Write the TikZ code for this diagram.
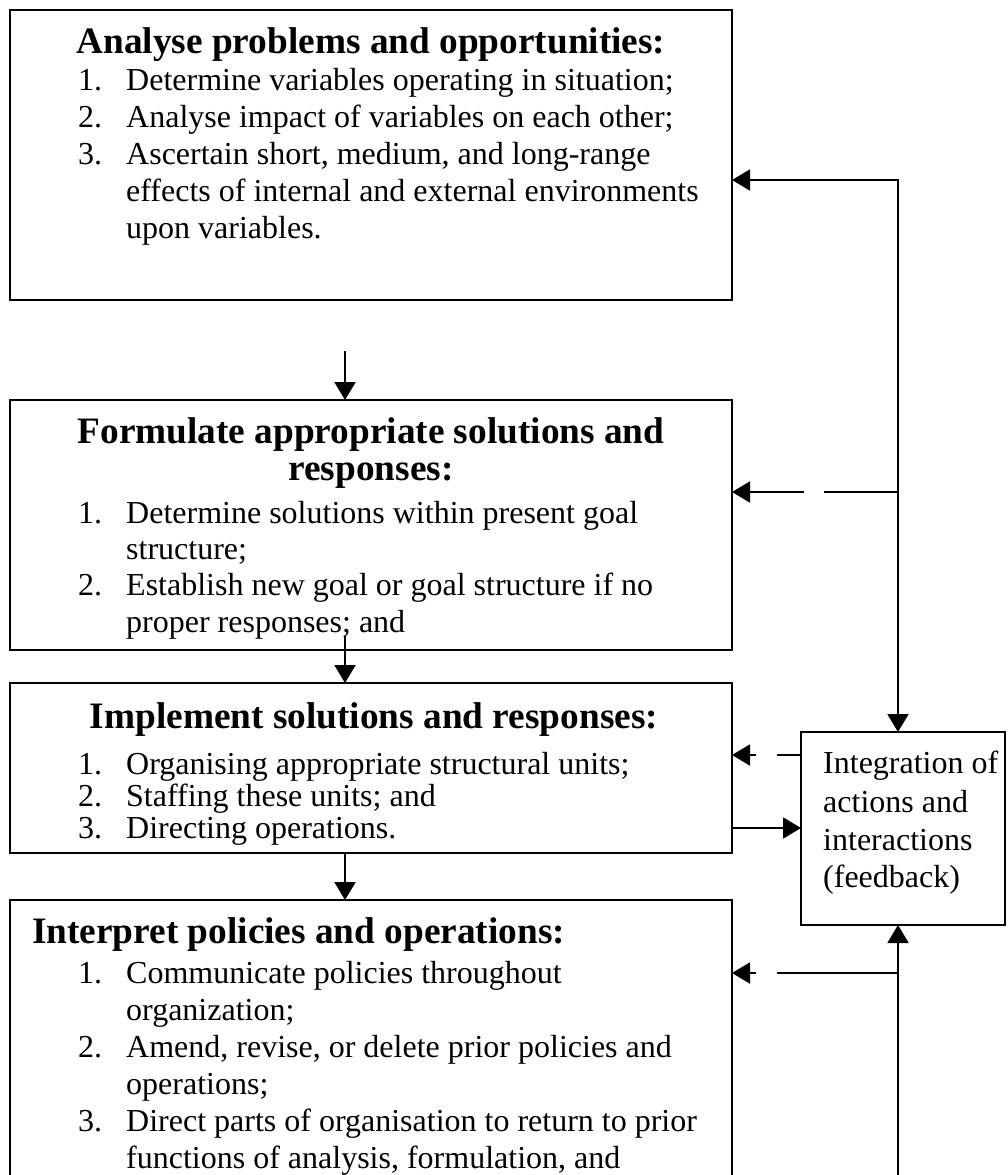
\documentclass[tikz,border=0pt]{standalone}
\usepackage{fontspec}
\setmainfont{Liberation Serif}
\usetikzlibrary{arrows.meta,calc}
\newcommand\bodyfont{\fontsize{32}{37}\selectfont}
\newcommand\headfont{\fontsize{37.3}{43}\selectfont\bfseries}
\newcommand\num[1]{\makebox[48pt][l]{#1}}
\begin{document}
\begin{tikzpicture}[x=1pt,y=-1pt,
  box/.style={draw, line width=2pt, inner sep=0pt, outer sep=0pt},
  head/.style={anchor=base, inner sep=0pt, font=\headfont},
  headl/.style={anchor=base west, inner sep=0pt, font=\headfont},
  txt/.style={anchor=base west, inner sep=0pt, font=\bodyfont},
  link/.style={line width=2pt, line cap=rect},
  arr/.style={line width=2pt, line cap=rect, -{Triangle[length=18pt,width=21pt]}},
]
\path[use as bounding box] (0,0) rectangle (1008,1175);
\clip (0,0) rectangle (1008,1175);
\fill[white] (0,0) rectangle (1008,1175);

% boxes
\node[box, minimum width=722pt, minimum height=290pt] (b1) at (371,155) {};
\node[box, minimum width=722pt, minimum height=250pt] (b2) at (371,525) {};
\node[box, minimum width=722pt, minimum height=170pt] (b3) at (371,768) {};
\node[box, minimum width=722pt, minimum height=320pt] (b4) at (371,1060) {};
\node[box, minimum width=204pt, minimum height=193pt] (ib) at (903,828.5) {};

% box 1
\node[head] (t1) at (371,53) {Analyse problems and opportunities:};
\node[txt] (t1a) at (78,90) {\num{1.}Determine variables operating in situation;};
\node[txt] (t1b) at (78,127) {\num{2.}Analyse impact of variables on each other;};
\node[txt] (t1c) at (78,164) {\num{3.}Ascertain short, medium, and long-range};
\node[txt] (t1d) at (126,201) {effects of internal and external environments};
\node[txt] (t1e) at (126,238) {upon variables.};

% box 2
\node[head] (t2) at (371,443) {Formulate appropriate solutions and};
\node[head] (t2b) at (371,480) {responses:};
\node[txt] (t2a) at (78,523) {\num{1.}Determine solutions within present goal};
\node[txt] (t2c) at (126,559) {structure;};
\node[txt] (t2d) at (78,595) {\num{2.}Establish new goal or goal structure if no};
\node[txt] (t2e) at (126,632) {proper responses; and};

% box 3
\node[head] (t3) at (374,728) {Implement solutions and responses:};
\node[txt] (t3a) at (78,774) {\num{1.}Organising appropriate structural units;};
\node[txt] (t3b) at (78,806) {\num{2.}Staffing these units; and};
\node[txt] (t3c) at (78,838) {\num{3.}Directing operations.};

% box 4
\node[headl] (t4) at (32,943) {Interpret policies and operations:};
\node[txt] (t4a) at (78,983) {\num{1.}Communicate policies throughout};
\node[txt] (t4b) at (126,1020) {organization;};
\node[txt] (t4c) at (78,1057) {\num{2.}Amend, revise, or delete prior policies and};
\node[txt] (t4d) at (126,1094) {operations;};
\node[txt] (t4e) at (78,1131) {\num{3.}Direct parts of organisation to return to prior};
\node[txt] (t4f) at (126,1168) {functions of analysis, formulation, and};

% integration box
\node[txt] (i1) at (823,773) {Integration of};
\node[txt] (i2) at (823,812) {actions and};
\node[txt] (i3) at (823,850) {interactions};
\node[txt] (i4) at (823,887) {(feedback)};

% main flow
\coordinate (s1) at (345,352);
\draw[arr] (s1) -- (s1 |- b2.north);
\coordinate (s2) at (345,637);
\draw[arr] (s2) -- (s2 |- b3.north);
\draw[arr] (b3.south -| s1) -- (b4.north -| s1);

% feedback loop, upper part
\coordinate (fbtop) at (898,180);
\draw[arr] (fbtop) -- (fbtop -| b1.east);
\draw[arr] (fbtop) -- (fbtop |- ib.north);
\coordinate (j2) at (898,492);
\coordinate (g2a) at (825,492);
\coordinate (g2b) at (803,492);
\draw[link] (j2) -- (g2a);
\draw[arr] (g2b) -- (g2b -| b2.east);

% box 3 to and from the integration box
\coordinate (g3a) at (778,755);
\coordinate (g3b) at (755,755);
\draw[link] (ib.west |- g3a) -- (g3a);
\draw[arr] (g3b) -- (g3b -| b3.east);
\coordinate (o3) at (732,828);
\draw[arr] (b3.east |- o3) -- (ib.west |- o3);

% feedback loop, lower part
\coordinate (fbbot) at (898,1180);
\draw[arr] (fbbot) -- (fbbot |- ib.south);
\coordinate (j4) at (898,973);
\coordinate (g4a) at (778,973);
\coordinate (g4b) at (755,973);
\draw[link] (j4) -- (g4a);
\draw[arr] (g4b) -- (g4b -| b4.east);
\end{tikzpicture}
\end{document}
